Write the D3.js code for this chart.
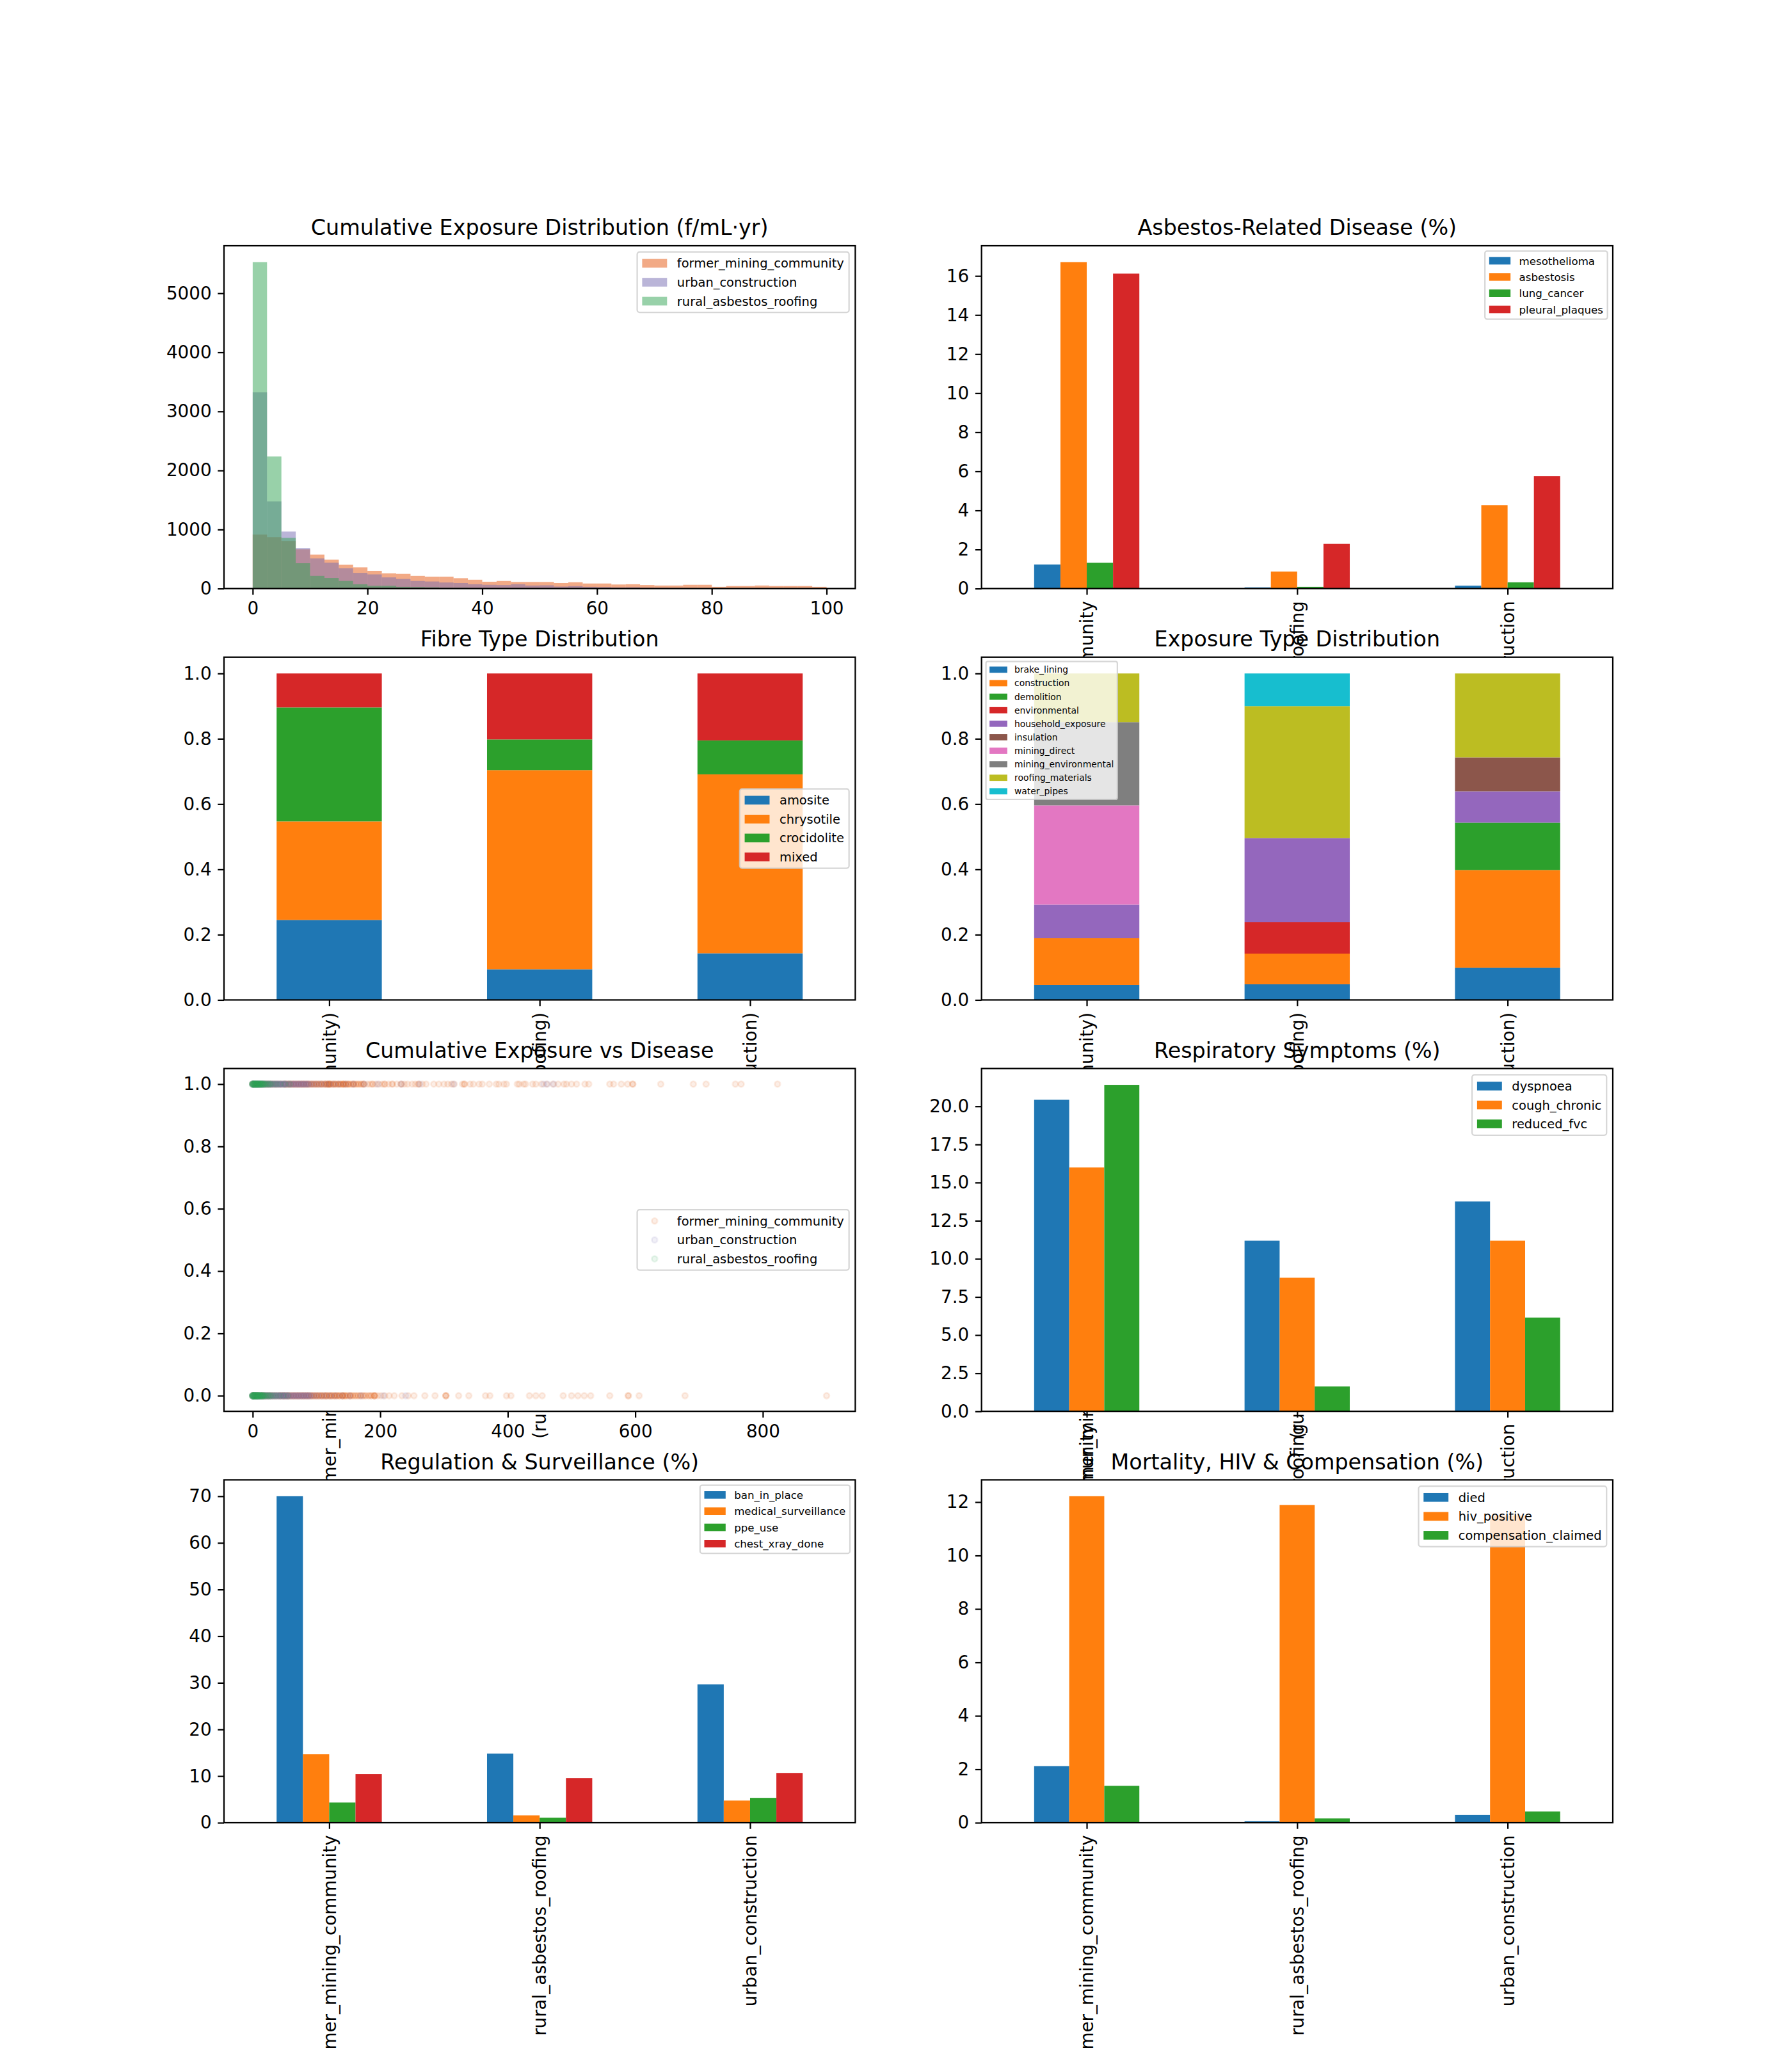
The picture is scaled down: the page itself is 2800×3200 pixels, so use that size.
<!DOCTYPE html>
<html><head><meta charset="utf-8">
<script src="https://cdn.jsdelivr.net/npm/d3@7"></script>
<style>body{margin:0;background:#fff} svg{display:block} text{font-family:"DejaVu Sans",sans-serif}</style>
</head><body><svg id="fig" width="2800" height="3200"></svg>
<script>
// ---------------- DATA ----------------
const communities = ["former_mining_community", "rural_asbestos_roofing", "urban_construction"];
const tupleLabels = ["(former_mining_community, former_mining_community)", "(rural_asbestos_roofing, rural_asbestos_roofing)", "(urban_construction, urban_construction)"];

// Panel 1: histogram (40 bins of width 2.5 over 0..100)
const histGroups = ["former_mining_community", "urban_construction", "rural_asbestos_roofing"];
const histColors = ["#e6550d", "#756bb1", "#31a354"];
const histBinWidth = 2.5;
const histFormer = [914, 871, 807, 665, 575, 489, 403, 360, 300, 258, 249, 215, 202, 202, 176, 150, 116, 129, 112, 112, 112, 94, 107, 86, 86, 69, 73, 60, 52, 52, 64, 64, 30, 43, 43, 52, 43, 43, 43, 30];
const histUrban = [3322, 1476, 966, 687, 511, 438, 343, 266, 240, 189, 163, 129, 120, 103, 94, 73, 64, 60, 73, 52, 56, 34, 43, 30, 26, 20, 22, 15, 12, 10, 9, 8, 7, 6, 5, 5, 4, 4, 3, 3];
const histRural = [5528, 2236, 858, 429, 215, 180, 129, 73, 47, 47, 30, 26, 21, 13, 12, 9, 6, 5, 4, 4, 3, 3, 2, 2, 2, 1, 1, 1, 1, 1, 0, 0, 0, 0, 0, 0, 0, 0, 0, 0];
const histXTicks = [0, 20, 40, 60, 80, 100];
const histYTicks = [0, 1000, 2000, 3000, 4000, 5000];

// Panel 2: disease (%)
const diseaseNames = ["mesothelioma", "asbestosis", "lung_cancer", "pleural_plaques"];
const mesothelioma = [1.23, 0.06, 0.15];
const asbestosis = [16.71, 0.87, 4.27];
const lungCancer = [1.32, 0.09, 0.32];
const pleuralPlaques = [16.12, 2.29, 5.75];
const diseaseYTicks = [0, 2, 4, 6, 8, 10, 12, 14, 16];

// Panel 3: fibre type distribution
const fibreNames = ["amosite", "chrysotile", "crocidolite", "mixed"];
const amosite = [0.245, 0.094, 0.143];
const chrysotile = [0.302, 0.610, 0.548];
const crocidolite = [0.349, 0.094, 0.104];
const mixedFibre = [0.104, 0.202, 0.205];
const fracTicks = [0, 0.2, 0.4, 0.6, 0.8, 1.0];

// Panel 4: exposure type distribution
const exposureNames = ["brake_lining", "construction", "demolition", "environmental", "household_exposure", "insulation", "mining_direct", "mining_environmental", "roofing_materials", "water_pipes"];
const brakeLining = [0.046, 0.048, 0.099];
const constructionExp = [0.143, 0.094, 0.299];
const demolition = [0, 0, 0.145];
const environmental = [0, 0.096, 0];
const householdExposure = [0.103, 0.258, 0.096];
const insulation = [0, 0, 0.104];
const miningDirect = [0.304, 0, 0];
const miningEnvironmental = [0.255, 0, 0];
const roofingMaterials = [0.149, 0.404, 0.257];
const waterPipes = [0, 0.100, 0];

// Panel 5: scatter, [exposure, number of points at that exposure]
const scatterGroups = ["former_mining_community", "urban_construction", "rural_asbestos_roofing"];
const former1 = [[0,1],[4,1],[8,1],[12,1],[16,1],[20,2],[24,2],[28,2],[32,2],[36,2],[40,2],[44,2],[48,2],[52,3],[56,3],[60,3],[64,3],[68,3],[72,3],[76,3],[80,3],[84,3],[88,3],[92,3],[96,3],[100,3],[104,3],[108,3],[112,3],[116,3],[119,4],[122,3],[126,3],[130,3],[134,3],[138,3],[142,4],[146,3],[150,3],[154,2],[158,3],[162,2],[166,2],[170,2],[174,3],[180,1],[184,1],[188,2],[193,1],[198,1],[203,1],[207,2],[213,1],[219,2],[226,1],[233,2],[238,1],[243,1],[250,1],[255,1],[260,2],[266,1],[272,1],[284,1],[292,1],[300,1],[306,1],[312,1],[316,1],[329,1],[332,2],[341,1],[346,1],[355,1],[360,1],[371,1],[382,1],[386,1],[394,1],[398,1],[415,1],[418,1],[425,1],[428,1],[439,1],[444,1],[453,1],[461,1],[471,1],[479,1],[488,1],[492,1],[500,1],[508,1],[521,1],[527,1],[560,1],[566,1],[578,1],[588,1],[596,2],[640,1],[691,1],[711,1],[757,1],[766,1],[823,1]];
const former0 = [[0,1],[4,1],[8,1],[12,1],[16,2],[20,2],[24,2],[28,2],[32,2],[36,2],[40,2],[44,3],[48,3],[52,3],[56,3],[60,3],[64,3],[68,3],[72,3],[76,3],[80,3],[84,3],[88,3],[92,3],[96,3],[100,3],[104,3],[108,3],[112,3],[116,3],[120,3],[124,3],[128,3],[132,3],[136,3],[141,4],[145,3],[149,2],[153,3],[157,2],[161,2],[165,2],[169,2],[173,2],[177,2],[182,2],[186,2],[191,4],[196,1],[201,1],[207,1],[214,1],[222,1],[234,1],[244,1],[253,1],[270,1],[286,1],[303,3],[323,1],[339,1],[365,1],[372,1],[398,1],[405,1],[434,1],[444,1],[454,1],[487,1],[500,1],[510,1],[520,1],[530,1],[560,1],[589,2],[606,1],[678,1],[900,1]];
const urban1 = [[0,3],[3,3],[6,3],[9,3],[12,3],[15,3],[18,3],[21,3],[24,3],[27,3],[30,3],[33,3],[36,3],[39,3],[42,3],[45,3],[48,3],[51,3],[54,2],[57,2],[60,2],[63,2],[66,2],[69,2],[72,2],[75,2],[78,2],[81,2],[84,2],[87,2],[90,1],[94,1],[98,1],[103,1],[108,1],[114,1],[120,1],[127,1],[135,1],[146,1],[158,1],[175,1],[196,1],[233,1],[262,1],[315,1],[456,1],[462,1],[472,1]];
const urban0 = [[0,3],[3,3],[6,3],[9,3],[12,3],[15,3],[18,3],[21,3],[24,3],[27,3],[30,3],[33,3],[36,3],[39,3],[42,3],[45,3],[48,3],[51,3],[54,3],[57,2],[60,2],[63,2],[66,2],[69,2],[72,2],[75,2],[78,2],[81,2],[84,2],[87,2],[90,2],[94,1],[98,1],[103,1],[109,1],[115,1],[122,1],[130,1],[140,1],[152,1],[170,1],[205,1],[240,1]];
const rural1 = [[0,6],[2,6],[4,6],[6,5],[8,5],[10,5],[12,4],[14,4],[16,3],[18,3],[21,2],[24,2],[27,2],[30,1],[34,1],[38,1],[43,1],[50,1],[58,1]];
const rural0 = [[0,7],[2,7],[4,6],[6,6],[8,5],[10,5],[12,4],[14,4],[16,3],[18,3],[21,2],[24,2],[27,2],[30,1],[33,1],[37,1],[42,1],[48,1],[55,1]];
const scatterXTicks = [0, 200, 400, 600, 800];

// Panel 6: respiratory symptoms (%)
const respNames = ["dyspnoea", "cough_chronic", "reduced_fvc"];
const dyspnoea = [20.43, 11.19, 13.76];
const coughChronic = [15.99, 8.76, 11.19];
const reducedFvc = [21.41, 1.63, 6.15];
const respYTicks = [0, 2.5, 5, 7.5, 10, 12.5, 15, 17.5, 20];

// Panel 7: regulation & surveillance (%)
const regNames = ["ban_in_place", "medical_surveillance", "ppe_use", "chest_xray_done"];
const banInPlace = [70.0, 14.83, 29.67];
const medicalSurveillance = [14.67, 1.58, 4.75];
const ppeUse = [4.33, 1.08, 5.33];
const chestXrayDone = [10.42, 9.58, 10.67];
const regYTicks = [0, 10, 20, 30, 40, 50, 60, 70];

// Panel 8: mortality, HIV & compensation (%)
const mortNames = ["died", "hiv_positive", "compensation_claimed"];
const died = [2.12, 0.06, 0.29];
const hivPositive = [12.22, 11.89, 11.5];
const compensationClaimed = [1.38, 0.16, 0.42];
const mortYTicks = [0, 2, 4, 6, 8, 10, 12];

const tab10 = ["#1f77b4", "#ff7f0e", "#2ca02c", "#d62728", "#9467bd", "#8c564b", "#e377c2", "#7f7f7f", "#bcbd22", "#17becf"];

// ---------------- LAYOUT ----------------
const PT = 200 / 72;
const W = 2800, H = 3200;
const FIG_L = 0.125 * W, FIG_R = 0.9 * W, FIG_T = 0.12 * H, FIG_B = 0.89 * H;
const AXW = (FIG_R - FIG_L) / 2.2, AXH = (FIG_B - FIG_T) / 4.6;
const LW = 0.8 * PT, TL = 3.5 * PT, TP = 3.5 * PT;
const TICKFS = 10 * PT, TITLEFS = 12 * PT;
const FONT = "DejaVu Sans";

const svg = d3.select("#fig");
svg.append("rect").attr("width", W).attr("height", H).attr("fill", "#fff");

function newPanel(r, c) {
  const b = { x: FIG_L + c * AXW * 1.2, y: FIG_T + r * AXH * 1.2, w: AXW, h: AXH };
  const g = svg.append("g");
  g.append("rect").attr("x", b.x).attr("y", b.y).attr("width", b.w).attr("height", b.h).attr("fill", "#fff");
  const data = g.append("g");
  return { b, g, data };
}

function styleAxis(ga) {
  ga.attr("font-family", FONT).attr("font-size", TICKFS);
  ga.select(".domain").remove();
  ga.selectAll(".tick line").attr("stroke", "#000").attr("stroke-width", LW);
  ga.selectAll(".tick text").attr("fill", "#000");
}

function yAxis(p, scale, ticks, fmt) {
  const ga = p.g.append("g").attr("transform", `translate(${p.b.x},0)`)
    .call(d3.axisLeft(scale).tickValues(ticks).tickFormat(fmt).tickSize(TL).tickPadding(TP).tickSizeOuter(0));
  styleAxis(ga);
}

function xAxisNumeric(p, scale, ticks, fmt) {
  const ga = p.g.append("g").attr("transform", `translate(0,${p.b.y + p.b.h})`)
    .call(d3.axisBottom(scale).tickValues(ticks).tickFormat(fmt).tickSize(TL).tickPadding(TP).tickSizeOuter(0));
  styleAxis(ga);
  ga.selectAll(".tick text").attr("dy", "0.76em");
}

function xAxisCategory(p, scale, labels) {
  const ga = p.g.append("g").attr("transform", `translate(0,${p.b.y + p.b.h})`)
    .call(d3.axisBottom(scale).tickValues(labels.map((d, i) => i)).tickFormat(i => labels[i]).tickSize(TL).tickPadding(TP).tickSizeOuter(0));
  styleAxis(ga);
  ga.selectAll(".tick text").attr("transform", "rotate(-90)").attr("text-anchor", "end")
    .attr("x", -(TL + TP)).attr("y", 0).attr("dy", "0.35em");
}

function spines(p) {
  p.g.append("rect").attr("x", p.b.x).attr("y", p.b.y).attr("width", p.b.w).attr("height", p.b.h)
    .attr("fill", "none").attr("stroke", "#000").attr("stroke-width", LW);
}

function title(p, t) {
  p.g.append("text").attr("x", p.b.x + p.b.w / 2).attr("y", p.b.y - 6 * PT)
    .attr("text-anchor", "middle").attr("font-family", FONT).attr("font-size", TITLEFS).attr("fill", "#000").text(t);
}

function legend(p, items, fsPt, loc, kind) {
  const fs = fsPt * PT;
  const pad = 0.4 * fs, hl = 2 * fs, htp = 0.8 * fs, ls = 0.5 * fs, rowH = 1.02 * fs, bap = 0.5 * fs;
  const lg = p.g.append("g");
  const frame = lg.append("rect");
  const texts = items.map(it => lg.append("text").attr("font-family", FONT).attr("font-size", fs).attr("fill", "#000").text(it.label));
  const tw = d3.max(texts, t => t.node().getComputedTextLength());
  const bw = 2 * pad + hl + htp + tw;
  const bh = 2 * pad + items.length * rowH + (items.length - 1) * ls;
  let x0, y0;
  if (loc === "upper right") { x0 = p.b.x + p.b.w - bap - bw; y0 = p.b.y + bap; }
  else if (loc === "upper left") { x0 = p.b.x + bap; y0 = p.b.y + bap; }
  else { x0 = p.b.x + p.b.w - bap - bw; y0 = p.b.y + p.b.h / 2 - bh / 2; }
  frame.attr("x", x0).attr("y", y0).attr("width", bw).attr("height", bh).attr("rx", 0.2 * fs)
    .attr("fill", "#fff").attr("fill-opacity", 0.8).attr("stroke", "#cccccc").attr("stroke-opacity", 0.8).attr("stroke-width", LW);
  items.forEach((it, i) => {
    const cy = y0 + pad + i * (rowH + ls) + rowH / 2;
    if (kind === "marker") {
      lg.append("circle").attr("cx", x0 + pad + hl / 2).attr("cy", cy).attr("r", 1.58 * PT)
        .attr("fill", it.color).attr("fill-opacity", it.opacity).attr("stroke", it.color).attr("stroke-opacity", it.opacity).attr("stroke-width", PT);
    } else {
      lg.append("rect").attr("x", x0 + pad).attr("y", cy - 0.35 * fs).attr("width", hl).attr("height", 0.7 * fs)
        .attr("fill", it.color).attr("fill-opacity", it.opacity == null ? 1 : it.opacity);
    }
    texts[i].attr("x", x0 + pad + hl + htp).attr("y", cy).attr("dy", "0.36em");
  });
}

function groupedBarPanel(r, c, ttl, names, series, yTicks, fmt, lfs, lloc, labels) {
  const p = newPanel(r, c);
  const x = d3.scaleLinear().domain([-0.5, communities.length - 0.5]).range([p.b.x, p.b.x + p.b.w]);
  const ymax = d3.max(series.flat()) * 1.05;
  const y = d3.scaleLinear().domain([0, ymax]).range([p.b.y + p.b.h, p.b.y]);
  const n = series.length, bw = 0.5 / n;
  series.forEach((vals, si) => {
    p.data.selectAll(null).data(vals).enter().append("rect")
      .attr("x", (v, k) => x(k - 0.25 + si * bw))
      .attr("width", x(bw) - x(0))
      .attr("y", v => y(v))
      .attr("height", v => y(0) - y(v))
      .attr("fill", tab10[si]);
  });
  spines(p);
  yAxis(p, y, yTicks, fmt);
  xAxisCategory(p, x, labels);
  title(p, ttl);
  legend(p, names.map((nm, i) => ({ label: nm, color: tab10[i] })), lfs, lloc, "patch");
}

function stackedBarPanel(r, c, ttl, names, series, lfs, lloc, labels) {
  const p = newPanel(r, c);
  const x = d3.scaleLinear().domain([-0.5, communities.length - 0.5]).range([p.b.x, p.b.x + p.b.w]);
  const y = d3.scaleLinear().domain([0, 1.05]).range([p.b.y + p.b.h, p.b.y]);
  const cum = communities.map(() => 0);
  series.forEach((vals, si) => {
    const base = cum.slice();
    vals.forEach((v, k) => { cum[k] += v; });
    p.data.selectAll(null).data(vals).enter().append("rect")
      .attr("x", (v, k) => x(k - 0.25))
      .attr("width", x(0.5) - x(0))
      .attr("y", (v, k) => y(base[k] + v))
      .attr("height", (v, k) => y(base[k]) - y(base[k] + v))
      .attr("fill", tab10[si]);
  });
  spines(p);
  yAxis(p, y, fracTicks, d3.format(".1f"));
  xAxisCategory(p, x, labels);
  title(p, ttl);
  legend(p, names.map((nm, i) => ({ label: nm, color: tab10[i] })), lfs, lloc, "patch");
}

// ---------- Panel 1: histogram ----------
(function () {
  const p = newPanel(0, 0);
  const hists = [histFormer, histUrban, histRural];
  const x = d3.scaleLinear().domain([-5, 105]).range([p.b.x, p.b.x + p.b.w]);
  const ymax = d3.max(hists.flat()) * 1.05;
  const y = d3.scaleLinear().domain([0, ymax]).range([p.b.y + p.b.h, p.b.y]);
  hists.forEach((counts, gi) => {
    p.data.selectAll(null).data(counts).enter().append("rect")
      .attr("x", (v, i) => x(i * histBinWidth))
      .attr("width", x(histBinWidth) - x(0))
      .attr("y", v => y(v))
      .attr("height", v => y(0) - y(v))
      .attr("fill", histColors[gi]).attr("fill-opacity", 0.5);
  });
  spines(p);
  yAxis(p, y, histYTicks, d3.format("d"));
  xAxisNumeric(p, x, histXTicks, d3.format("d"));
  title(p, "Cumulative Exposure Distribution (f/mL\u00b7yr)");
  legend(p, histGroups.map((nm, i) => ({ label: nm, color: histColors[i], opacity: 0.5 })), 7, "upper right", "patch");
})();

// ---------- Panel 2 ----------
groupedBarPanel(0, 1, "Asbestos-Related Disease (%)", diseaseNames,
  [mesothelioma, asbestosis, lungCancer, pleuralPlaques], diseaseYTicks, d3.format("d"), 6, "upper right", communities);

// ---------- Panel 3 ----------
stackedBarPanel(1, 0, "Fibre Type Distribution", fibreNames,
  [amosite, chrysotile, crocidolite, mixedFibre], 7, "center right", tupleLabels);

// ---------- Panel 4 ----------
stackedBarPanel(1, 1, "Exposure Type Distribution", exposureNames,
  [brakeLining, constructionExp, demolition, environmental, householdExposure, insulation, miningDirect, miningEnvironmental, roofingMaterials, waterPipes],
  5, "upper left", tupleLabels);

// ---------- Panel 5: scatter ----------
(function () {
  const p = newPanel(2, 0);
  const groups = [[former1, former0], [urban1, urban0], [rural1, rural0]];
  const allX = groups.flat(2).map(d => d[0]);
  const xmin = d3.min(allX), xmaxv = d3.max(allX), xr = xmaxv - xmin;
  const x = d3.scaleLinear().domain([xmin - 0.05 * xr, xmaxv + 0.05 * xr]).range([p.b.x, p.b.x + p.b.w]);
  const y = d3.scaleLinear().domain([-0.05, 1.05]).range([p.b.y + p.b.h, p.b.y]);
  const clipId = "clip5";
  p.g.append("clipPath").attr("id", clipId).append("rect").attr("x", p.b.x).attr("y", p.b.y).attr("width", p.b.w).attr("height", p.b.h);
  p.data.attr("clip-path", `url(#${clipId})`);
  groups.forEach(([rows1, rows0], gi) => {
    const pts = [];
    rows1.forEach(([v, n]) => { for (let k = 0; k < n; k++) pts.push([v, 1]); });
    rows0.forEach(([v, n]) => { for (let k = 0; k < n; k++) pts.push([v, 0]); });
    p.data.selectAll(null).data(pts).enter().append("circle")
      .attr("cx", d => x(d[0])).attr("cy", d => y(d[1])).attr("r", 1.58 * PT)
      .attr("fill", histColors[gi]).attr("fill-opacity", 0.1)
      .attr("stroke", histColors[gi]).attr("stroke-opacity", 0.1).attr("stroke-width", PT);
  });
  spines(p);
  yAxis(p, y, fracTicks, d3.format(".1f"));
  xAxisNumeric(p, x, scatterXTicks, d3.format("d"));
  title(p, "Cumulative Exposure vs Disease");
  legend(p, scatterGroups.map((nm, i) => ({ label: nm, color: histColors[i], opacity: 0.1 })), 7, "center right", "marker");
})();

// ---------- Panel 6 ----------
groupedBarPanel(2, 1, "Respiratory Symptoms (%)", respNames,
  [dyspnoea, coughChronic, reducedFvc], respYTicks, d3.format(".1f"), 7, "upper right", communities);

// ---------- Panel 7 ----------
groupedBarPanel(3, 0, "Regulation & Surveillance (%)", regNames,
  [banInPlace, medicalSurveillance, ppeUse, chestXrayDone], regYTicks, d3.format("d"), 6, "upper right", communities);

// ---------- Panel 8 ----------
groupedBarPanel(3, 1, "Mortality, HIV & Compensation (%)", mortNames,
  [died, hivPositive, compensationClaimed], mortYTicks, d3.format("d"), 7, "upper right", communities);
</script>
</body></html>
